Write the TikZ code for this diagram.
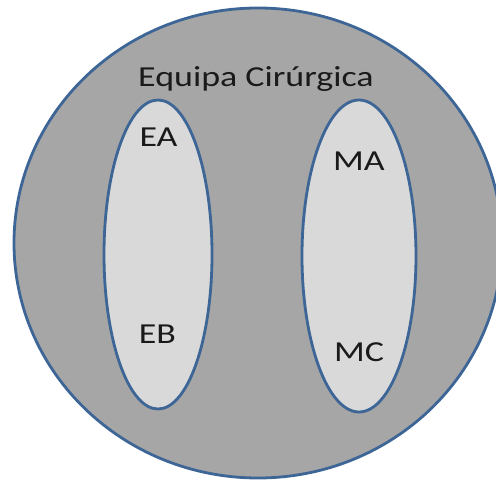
\documentclass[tikz,border=0pt]{standalone}
\usepackage{fontspec}
\setmainfont{Carlito}
\usetikzlibrary{shapes.geometric}
\definecolor{edgeblue}{HTML}{3D6596}
\definecolor{outerfill}{HTML}{A6A6A6}
\definecolor{innerfill}{HTML}{D9D9D9}
\definecolor{txt}{HTML}{1A1A1A}
\tikzset{
  setshape/.style={ellipse, draw=edgeblue, line width=2.8pt, inner sep=0pt},
  lbl/.style={text=txt, font=\fontsize{29}{34}\selectfont, inner sep=0pt, anchor=base, xscale=1.24}
}
\begin{document}
\begin{tikzpicture}[x=1pt,y=1pt]
\useasboundingbox (0,0) rectangle (496,-481);
\begin{scope}
\clip (0,0) rectangle (496,-481);
\node[setshape, fill=outerfill, minimum width=488pt, minimum height=470pt] (team) at (258,-243) {};
\end{scope}
\node[setshape, fill=innerfill, minimum width=108pt, minimum height=309pt] (left) at (158,-254.5) {};
\node[setshape, fill=innerfill, minimum width=114pt, minimum height=312pt] (right) at (359,-256) {};
\node[lbl] (title) at (256,-87) {Equipa Cirúrgica};
\node[lbl] (ea) at (158.5,-147) {EA};
\node[lbl] (eb) at (157.5,-343.5) {EB};
\node[lbl] (ma) at (359,-170.5) {MA};
\node[lbl] (mc) at (359,-362) {MC};
\end{tikzpicture}
\end{document}
